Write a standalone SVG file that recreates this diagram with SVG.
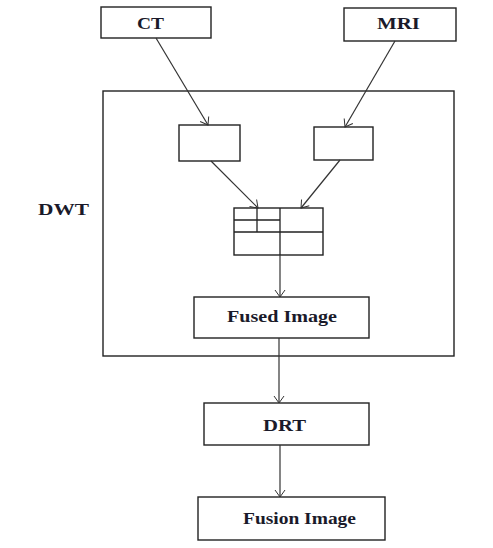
<svg xmlns="http://www.w3.org/2000/svg" width="493" height="548" viewBox="0 0 493 548">
<defs>
<marker id="arr" markerUnits="userSpaceOnUse" markerWidth="14" markerHeight="14" viewBox="-8 -7 10 14" refX="0" refY="0" orient="auto">
<polyline points="-7,-5 0,0 -7,5" fill="none" stroke="#333" stroke-width="1"/>
</marker>
</defs>
<style>
rect{fill:#fff;stroke:#222;stroke-width:1.4}
.ln{fill:none;stroke:#222;stroke-width:1.3}
.c{stroke:#333;stroke-width:1.2;fill:none}
text{font-family:"Liberation Serif","Times New Roman",serif;font-size:17px;fill:#1a1a2a;font-weight:bold}
</style>
<rect x="0" y="0" width="493" height="548" style="fill:#fff;stroke:none"/>
<g id="dwt">
<rect x="103" y="91" width="351" height="265"/>
<text x="38" y="215" textLength="51" lengthAdjust="spacingAndGlyphs">DWT</text>
</g>
<g id="ct">
<rect x="101" y="7" width="110" height="31"/>
<text x="137" y="29" textLength="27" lengthAdjust="spacingAndGlyphs">CT</text>
</g>
<g id="mri">
<rect x="344" y="8" width="112" height="33"/>
<text x="377" y="29" textLength="43" lengthAdjust="spacingAndGlyphs">MRI</text>
</g>
<g id="box1">
<rect x="179" y="125" width="61" height="36"/>
</g>
<g id="box2">
<rect x="314" y="127" width="59" height="33"/>
</g>
<g id="grid">
<rect x="234" y="208" width="89" height="47"/>
<path class="ln" d="M234 220H280M257 208V232M234 232H323M280 208V255"/>
</g>
<g id="fused">
<rect x="194" y="297" width="175" height="41"/>
<text x="227" y="322" textLength="110" lengthAdjust="spacingAndGlyphs">Fused Image</text>
</g>
<g id="drt">
<rect x="204" y="403" width="165" height="42"/>
<text x="263" y="431" textLength="43" lengthAdjust="spacingAndGlyphs">DRT</text>
</g>
<g id="fusion">
<rect x="198" y="497" width="187" height="43"/>
<text x="243" y="524" textLength="113" lengthAdjust="spacingAndGlyphs">Fusion Image</text>
</g>
<g id="connectors">
<line class="c" x1="156" y1="38" x2="208" y2="125" marker-end="url(#arr)"/>
<line class="c" x1="395" y1="41" x2="345" y2="127" marker-end="url(#arr)"/>
<line class="c" x1="211" y1="161" x2="258" y2="208" marker-end="url(#arr)"/>
<line class="c" x1="340" y1="160" x2="301" y2="208" marker-end="url(#arr)"/>
<line class="c" x1="280" y1="255" x2="280" y2="297" marker-end="url(#arr)"/>
<line class="c" x1="279" y1="338" x2="279" y2="403" marker-end="url(#arr)"/>
<line class="c" x1="280" y1="445" x2="280" y2="497" marker-end="url(#arr)"/>
</g>
</svg>
